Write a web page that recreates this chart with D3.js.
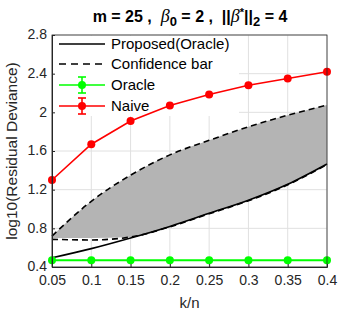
<!DOCTYPE html>
<html>
<head>
<meta charset="utf-8">
<script src="https://cdn.jsdelivr.net/npm/d3@7"></script>
<style>
  body { margin: 0; background: #fff; }
  svg { display: block; font-family: "Liberation Sans", Arial, sans-serif; }
</style>
</head>
<body>
<svg id="chart" width="343" height="316"></svg>
<script>
const kn = [0.05, 0.1, 0.15, 0.2, 0.25, 0.3, 0.35, 0.4];
const proposed = [0.495, 0.59, 0.70, 0.82, 0.955, 1.09, 1.255, 1.465];
const confLower = [0.686, 0.68, 0.71, 0.815, 0.95, 1.085, 1.25, 1.46];
const fillLower = [0.70, 0.70, 0.71, 0.815, 0.95, 1.085, 1.25, 1.46];
const confUpper = [0.72, 1.08, 1.35, 1.56, 1.71, 1.85, 1.97, 2.075];
const oracle = [0.47, 0.47, 0.47, 0.47, 0.47, 0.47, 0.47, 0.47];
const naive = [1.30, 1.67, 1.91, 2.07, 2.185, 2.28, 2.35, 2.42];
const yTicks = [0.4, 0.8, 1.2, 1.6, 2.0, 2.4, 2.8];
const xTicks = [0.05, 0.1, 0.15, 0.2, 0.25, 0.3, 0.35, 0.4];
const legendLabels = ["Proposed(Oracle)", "Confidence bar", "Oracle", "Naive"];

const svg = d3.select("#chart");
const L = 52, R = 327, T = 35, B = 267;
const x = d3.scaleLinear().domain([0.05, 0.4]).range([L, R]);
const y = d3.scaleLinear().domain([0.4, 2.8]).range([B, T]);

// grid
const grid = svg.append("g");
grid.selectAll(".gx").data(xTicks).join("line")
  .attr("x1", d => x(d)).attr("x2", d => x(d)).attr("y1", T).attr("y2", B)
  .attr("stroke", "#e0e0e0").attr("stroke-width", 1);
grid.selectAll(".gy").data(yTicks).join("line")
  .attr("x1", L).attr("x2", R).attr("y1", d => y(d)).attr("y2", d => y(d))
  .attr("stroke", "#e0e0e0").attr("stroke-width", 1);

// legend background (hides grid, sits under data)
svg.append("rect").attr("x", L + 1).attr("y", T + 1).attr("width", 186).attr("height", 80).attr("fill", "#fff");

const idx = d3.range(kn.length);
const curve = d3.curveMonotoneX;

// band
const area = d3.area().curve(curve)
  .x(i => x(kn[i])).y0(i => y(fillLower[i])).y1(i => y(confUpper[i]));
svg.append("path").datum(idx).attr("d", area).attr("fill", "#b4b4b4");

const line = arr => d3.line().curve(curve).x(i => x(kn[i])).y(i => y(arr[i]))(idx);

svg.append("path").attr("d", line(proposed)).attr("fill", "none")
  .attr("stroke", "#000").attr("stroke-width", 1.6);
svg.append("path").attr("d", line(confLower)).attr("fill", "none")
  .attr("stroke", "#000").attr("stroke-width", 1.6).attr("stroke-dasharray", "6,4");
svg.append("path").attr("d", line(confUpper)).attr("fill", "none")
  .attr("stroke", "#000").attr("stroke-width", 1.6).attr("stroke-dasharray", "6,4");

// oracle
svg.append("path").attr("d", d3.line().x(i => x(kn[i])).y(i => y(oracle[i]))(idx))
  .attr("fill", "none").attr("stroke", "#00ff00").attr("stroke-width", 2);
svg.selectAll(".om").data(idx).join("circle")
  .attr("cx", i => x(kn[i])).attr("cy", i => y(oracle[i])).attr("r", 4).attr("fill", "#00ff00");

// naive
svg.append("path").attr("d", d3.line().x(i => x(kn[i])).y(i => y(naive[i]))(idx))
  .attr("fill", "none").attr("stroke", "#ff0000").attr("stroke-width", 1.6);
svg.selectAll(".nm").data(idx).join("circle")
  .attr("cx", i => x(kn[i])).attr("cy", i => y(naive[i])).attr("r", 4).attr("fill", "#ff0000");

// axes box
svg.append("rect").attr("x", L).attr("y", T).attr("width", R - L).attr("height", B - T)
  .attr("fill", "none").attr("stroke", "#262626").attr("stroke-width", 0.8);

const xAxis = d3.axisBottom(x).tickValues(xTicks).tickSize(-3).tickPadding(8)
  .tickFormat(d => String(+d.toFixed(2)));
const gx = svg.append("g").attr("transform", `translate(0,${B})`).call(xAxis);
const yAxis = d3.axisLeft(y).tickValues(yTicks).tickSize(-3).tickPadding(5)
  .tickFormat(d => d === 2 ? "2" : d.toFixed(1));
const gy = svg.append("g").attr("transform", `translate(${L},0)`).call(yAxis);
[gx, gy].forEach(g => {
  g.select(".domain").attr("stroke", "#262626");
  g.selectAll(".tick line").attr("stroke", "#262626");
  g.selectAll(".tick text").attr("fill", "#262626").style("font-size", "14px")
    .style("font-family", "'Liberation Sans', Arial, sans-serif");
});
gy.selectAll(".tick text").attr("dy", "0.28em");

// labels
svg.append("text").attr("x", (L + R) / 2).attr("y", 308).attr("text-anchor", "middle")
  .attr("fill", "#262626").style("font-size", "15px").text("k/n");
svg.append("text").attr("transform", `translate(17,${(T + B) / 2}) rotate(-90)`)
  .attr("text-anchor", "middle").attr("fill", "#262626").style("font-size", "15.5px")
  .text("log10(Residual Deviance)");

// title
const title = svg.append("text").attr("x", 190).attr("y", 22).attr("text-anchor", "middle")
  .style("font-size", "16px").style("font-weight", "bold").style("white-space", "pre")
  .attr("fill", "#000");
title.append("tspan").text("m = 25 ,  ");
title.append("tspan").style("font-family", "'Liberation Serif', serif").style("font-style", "italic")
  .style("font-weight", "normal").style("font-size", "18px").text("β");
title.append("tspan").attr("dy", 4).style("font-size", "13px").text("0");
title.append("tspan").attr("dy", -4).text(" = 2 ,  ||");
title.append("tspan").style("font-family", "'Liberation Serif', serif").style("font-style", "italic")
  .style("font-weight", "normal").style("font-size", "18px").text("β");
title.append("tspan").attr("dy", -6).style("font-size", "11px").text("*");
title.append("tspan").attr("dy", 6).text("||");
title.append("tspan").attr("dy", 4).style("font-size", "13px").text("2");
title.append("tspan").attr("dy", -4).text(" = 4");

// legend
const lg = svg.append("g");
const rowY = [44, 64, 85, 106];
const sx1 = 59, sx2 = 105, sxm = 82;
legendLabels.forEach((lab, i) => {
  const yy = rowY[i];
  if (i === 0) {
    lg.append("line").attr("x1", sx1).attr("x2", sx2).attr("y1", yy).attr("y2", yy)
      .attr("stroke", "#000").attr("stroke-width", 1.6);
  } else if (i === 1) {
    lg.append("line").attr("x1", sx1).attr("x2", sx2).attr("y1", yy).attr("y2", yy)
      .attr("stroke", "#000").attr("stroke-width", 1.6).attr("stroke-dasharray", "7,5");
  } else {
    const c = i === 2 ? "#00ff00" : "#ff0000";
    lg.append("line").attr("x1", sx1).attr("x2", sx2).attr("y1", yy).attr("y2", yy)
      .attr("stroke", c).attr("stroke-width", 1.6);
    lg.append("line").attr("x1", sxm).attr("x2", sxm).attr("y1", yy - 8).attr("y2", yy + 8)
      .attr("stroke", c).attr("stroke-width", 1.6);
    lg.append("line").attr("x1", sxm - 4).attr("x2", sxm + 4).attr("y1", yy - 8).attr("y2", yy - 8)
      .attr("stroke", c).attr("stroke-width", 1.6);
    lg.append("line").attr("x1", sxm - 4).attr("x2", sxm + 4).attr("y1", yy + 8).attr("y2", yy + 8)
      .attr("stroke", c).attr("stroke-width", 1.6);
    lg.append("circle").attr("cx", sxm).attr("cy", yy).attr("r", 4).attr("fill", c);
  }
  lg.append("text").attr("x", 111).attr("y", yy + 5).attr("fill", "#000")
    .style("font-size", "15px").text(lab);
});
</script>
</body>
</html>
